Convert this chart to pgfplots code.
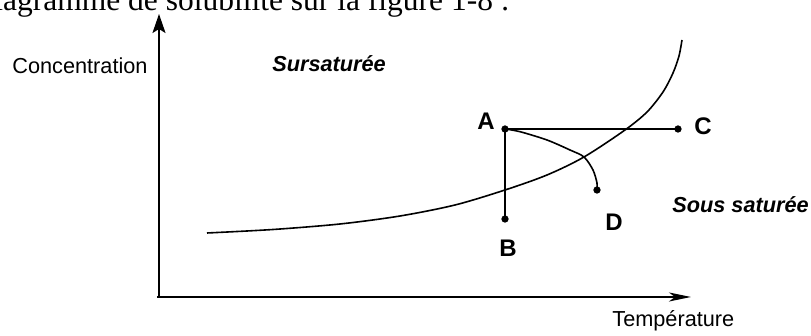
\documentclass[border=0pt]{standalone}
\usepackage{fontspec}
\setmainfont{Liberation Sans}
\newfontfamily\headserif{Liberation Serif}
\usepackage{pgfplots}
\pgfplotsset{compat=1.18}
\usetikzlibrary{arrows.meta}

\begin{document}
\begin{tikzpicture}
% page = 811 x 336 px, 1 px = 0.5pt
\useasboundingbox (0,0) rectangle (405.5pt,168pt);
\clip (0,0) rectangle (405.5pt,168pt);
\begin{axis}[
  at={(0,0)}, anchor=south west,
  scale only axis, width=405.5pt, height=168pt,
  xmin=0, xmax=811, ymin=0, ymax=336,
  axis lines=none, clip=false,
]
% axes
\addplot[line width=1pt, -{Stealth[length=9.5pt,width=6.5pt,inset=2pt]}]
  coordinates {(159,39) (159,322)};
\addplot[line width=1pt, -{Stealth[length=11pt,width=4.5pt,inset=3pt]}]
  coordinates {(157,39) (691,39)};
% solubility curve
\addplot[line width=0.8pt, smooth] coordinates {
  (207,103) (273,106.5) (340,112) (400,120) (455,131) (505,146)
  (547,161) (584,179) (625,206) (647,224) (663,244) (673,263)
  (679,280) (682,296)};
% paths from A
\addplot[line width=0.8pt] coordinates {(505,207) (678,207)};
\addplot[line width=0.8pt] coordinates {(505,207) (505,117)};
\addplot[line width=0.8pt, smooth] coordinates {
  (505,207) (520,204.3) (547,196) (570,186) (584,179) (593,166) (597,153) (597,146)};
\addplot[only marks, mark=*, mark size=1.6pt] coordinates {
  (505,207) (505,117) (678,207) (597,146)};
% labels
\node[font=\fontsize{12pt}{14pt}\selectfont\bfseries] at (486,215) {A};
\node[font=\fontsize{12pt}{14pt}\selectfont\bfseries] at (703,210) {C};
\node[font=\fontsize{12pt}{14pt}\selectfont\bfseries] at (508,88) {B};
\node[font=\fontsize{12pt}{14pt}\selectfont\bfseries] at (614,114) {D};
\node[anchor=base west, inner sep=0pt, font=\fontsize{10.85pt}{13pt}\selectfont] at (12,262) {Concentration};
\node[anchor=base west, inner sep=0pt, font=\fontsize{10.85pt}{13pt}\selectfont\bfseries\itshape] at (272,264) {Sursaturée};
\node[anchor=base west, inner sep=0pt, font=\fontsize{10.85pt}{13pt}\selectfont\bfseries\itshape] at (672,123) {Sous saturée};
\node[anchor=base west, inner sep=0pt, font=\fontsize{10.85pt}{13pt}\selectfont] at (612,9) {Température};
\node[anchor=base east, inner sep=0pt, font=\fontsize{15.75pt}{18pt}\selectfont\headserif] at (510,325) {diagramme de solubilité sur la figure 1-8 :};
\end{axis}
\end{tikzpicture}
\end{document}
